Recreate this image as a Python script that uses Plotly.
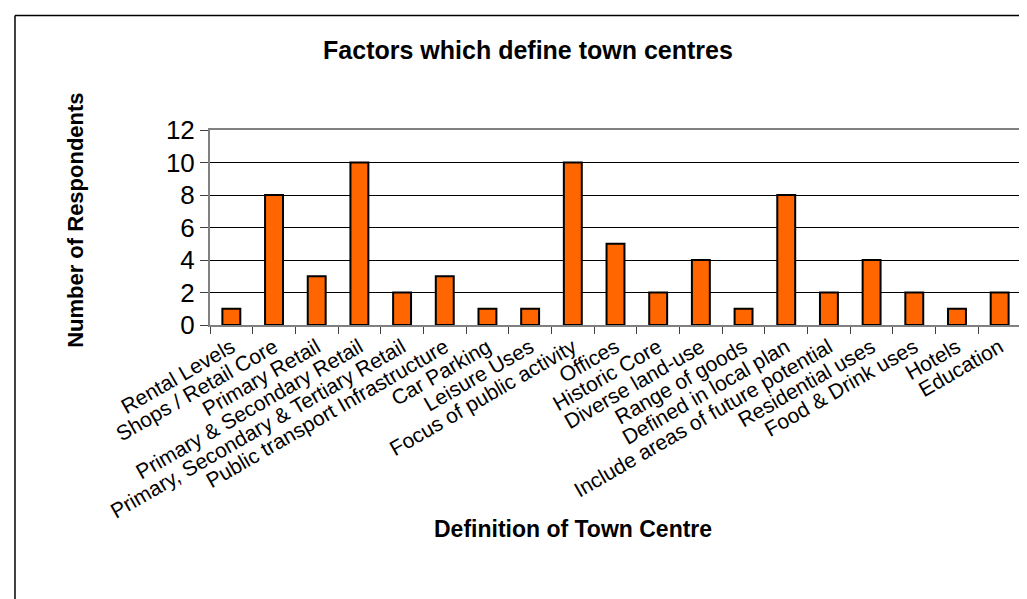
import plotly.graph_objects as go

# data
factors = [
    "Rental Levels", "Shops / Retail Core", "Primary Retail",
    "Primary & Secondary Retail", "Primary, Secondary & Tertiary Retail",
    "Public transport Infrastructure", "Car Parking", "Leisure Uses",
    "Focus of public activity", "Offices", "Historic Core", "Diverse land-use",
    "Range of goods", "Defined in local plan", "Include areas of future potential",
    "Residential uses", "Food & Drink uses", "Hotels", "Education",
]
respondents = [1, 8, 3, 10, 2, 3, 1, 1, 10, 5, 2, 4, 1, 8, 2, 4, 2, 1, 2]
y_ticks = [0, 2, 4, 6, 8, 10, 12]

W, H = 1027, 599
L, R, T, B = 202, 12, 122, 282
FONT = "Arial, Liberation Sans, sans-serif"


def px(x):
    return (x - L) / (W - L - R)


def py(y):
    return (H - B - y) / (H - T - B)


fig = go.Figure(go.Bar(
    x=factors, y=respondents,
    marker=dict(color="#FF6600", line=dict(color="black", width=2)),
))

fig.update_layout(
    width=W, height=H,
    margin=dict(l=L, r=R, t=T, b=B),
    paper_bgcolor="white", plot_bgcolor="white",
    bargap=0.58, showlegend=False,
    font=dict(family=FONT, color="black"),
    title=dict(text="<b>Factors which define town centres</b>",
               font=dict(size=25), x=520 / W, xanchor="center",
               y=1 - 42 / H, yanchor="middle"),
)

fig.update_xaxes(
    type="category", tickangle=-30, tickfont=dict(size=21),
    tickson="boundaries", ticks="outside", ticklen=7, tickcolor="#404040",
    showline=True, linecolor="#808080", linewidth=2, mirror=True,
    showgrid=False,
)
fig.update_yaxes(
    range=[0, 12], tickvals=y_ticks, tickfont=dict(size=26),
    ticks="outside", ticklen=8, tickcolor="#404040",
    showline=True, linecolor="#808080", linewidth=2, mirror=True,
    showgrid=True, gridcolor="black", gridwidth=1, zeroline=False,
)

fig.add_annotation(text="<b>Definition of Town Centre</b>", xref="paper", yref="paper",
                   x=px(566), y=py(536), showarrow=False, font=dict(size=23))
fig.add_annotation(text="<b>Number of Respondents</b>", xref="paper", yref="paper",
                   x=px(52), y=py(212), textangle=-90, showarrow=False, font=dict(size=22))

# outer chart border (only top and left edges fall inside the picture)
fig.add_shape(type="line", xref="paper", yref="paper",
              x0=px(6.5), y0=py(7.5), x1=px(1020), y1=py(7.5),
              line=dict(color="black", width=1.5))
fig.add_shape(type="line", xref="paper", yref="paper",
              x0=px(6.5), y0=py(7.5), x1=px(6.5), y1=py(605),
              line=dict(color="black", width=1.5))

fig.write_html("out.html")
